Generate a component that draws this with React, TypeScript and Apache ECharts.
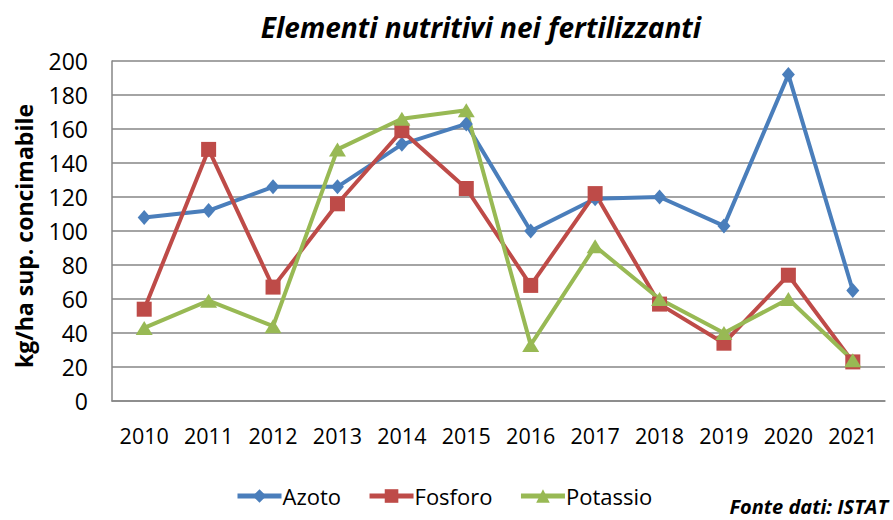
import React, { useEffect, useRef } from "react";
import * as echarts from "echarts";

const years = ["2010", "2011", "2012", "2013", "2014", "2015", "2016", "2017", "2018", "2019", "2020", "2021"];
const azoto = [108, 112, 126, 126, 151, 163, 100, 119, 120, 103, 192, 65];
const fosforo = [54, 148, 67, 116, 159, 125, 68, 122, 57, 34, 74, 23];
const potassio = [43, 59, 44, 148, 166, 171, 33, 91, 60, 40, 60, 24];
const yTicks = { min: 0, max: 200, interval: 20 };

const FONT = "Open Sans";

export default function App() {
  const ref = useRef<HTMLDivElement>(null);
  useEffect(() => {
    if (!ref.current) return;
    const chart = echarts.init(ref.current, null, { renderer: "svg" });
    const mk = (name: string, data: number[], color: string, symbol: string, size: any) => ({
      name,
      type: "line",
      data,
      symbol,
      symbolSize: size,
      showAllSymbol: true,
      lineStyle: { color, width: 4 },
      itemStyle: { color },
      z: 3,
    });
    chart.setOption({
      animation: false,
      textStyle: { fontFamily: FONT },
      grid: { left: 112, right: 8, top: 61, bottom: 119 },
      xAxis: {
        type: "category",
        data: years,
        boundaryGap: true,
        axisLine: { lineStyle: { color: "#868686", width: 1.5 } },
        axisTick: { show: false },
        axisLabel: { color: "#000", fontSize: 21.5, margin: 23, fontFamily: FONT, interval: 0 },
      },
      yAxis: {
        type: "value",
        min: yTicks.min,
        max: yTicks.max,
        interval: yTicks.interval,
        axisLine: { show: true, lineStyle: { color: "#868686", width: 1.5 } },
        axisTick: { show: false },
        splitLine: { lineStyle: { color: "#868686", width: 1.5 } },
        axisLabel: { color: "#000", fontSize: 23, margin: 24, fontFamily: FONT },
      },
      legend: {
        left: 230,
        top: 480,
        itemWidth: 44,
        itemHeight: 17,
        itemGap: 26,
        lineStyle: { width: 5 },
        textStyle: { color: "#000", fontSize: 22, fontFamily: FONT, padding: [0, 0, 0, -4] },
        data: ["Azoto", "Fosforo", "Potassio"],
      },
      graphic: [
        {
          type: "text",
          x: 481,
          y: 27,
          style: {
            text: "Elementi nutritivi nei fertilizzanti",
            fontFamily: FONT,
            fontSize: 28,
            fontWeight: "bold",
            fontStyle: "italic",
            fill: "#000",
            textAlign: "center",
            textVerticalAlign: "middle",
          },
        },
        {
          type: "text",
          x: 24,
          y: 236,
          rotation: Math.PI / 2,
          style: {
            text: "kg/ha sup. concimabile",
            fontFamily: FONT,
            fontSize: 23,
            fontWeight: "bold",
            fill: "#000",
            textAlign: "center",
            textVerticalAlign: "middle",
          },
        },
        {
          type: "text",
          x: 888,
          y: 506,
          style: {
            text: "Fonte dati: ISTAT",
            fontFamily: FONT,
            fontSize: 20,
            fontWeight: "bold",
            fontStyle: "italic",
            fill: "#000",
            textAlign: "right",
            textVerticalAlign: "middle",
          },
        },
      ],
      series: [
        mk("Azoto", azoto, "#4A7EBB", "diamond", [13, 15]),
        mk("Fosforo", fosforo, "#BE4B48", "rect", 15),
        mk("Potassio", potassio, "#98B954", "triangle", [17, 14]),
      ],
    });
    return () => chart.dispose();
  }, []);
  return <div ref={ref} style={{ position: "fixed", left: 0, top: 0, width: 893, height: 520, background: "#fff" }} />;
}
